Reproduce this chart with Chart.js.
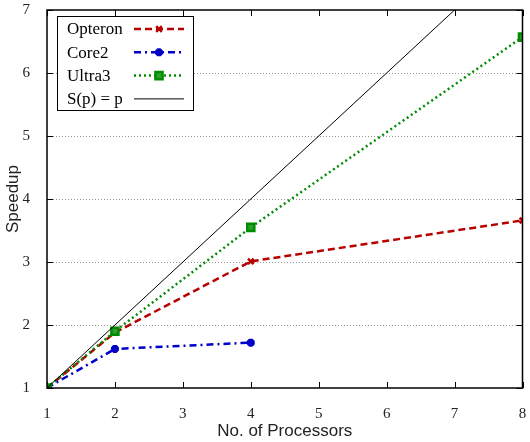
<!DOCTYPE html>
<html><head><meta charset="utf-8">
<script src="https://cdn.jsdelivr.net/npm/chart.js@4/dist/chart.umd.min.js"></script>
<style>html,body{margin:0;padding:0;background:#fff}#wrap{width:530px;height:442px}</style>
</head><body><div id="wrap"><canvas id="c" width="530" height="442"></canvas></div>
<script>
const processors = [1, 2, 4, 8];
const opteron = [1.0, 1.88, 3.01, 3.66];
const core2 = [1.0, 1.62, 1.72];
const ultra3 = [1.0, 1.9, 3.55, 6.57];
const ideal = [1, 8];
const idealX = [1, 8];
const xTicks = [1, 2, 3, 4, 5, 6, 7, 8];
const yTicks = [1, 2, 3, 4, 5, 6, 7];

const pts = (xs, ys) => ys.map((y, i) => ({x: xs[i], y}));

const framePlugin = {
  id: 'frame',
  beforeDatasetsDraw(chart) {
    const {ctx, chartArea: a, scales: {x, y}} = chart;
    ctx.save();
    ctx.strokeStyle = '#999';
    ctx.lineWidth = 1;
    ctx.setLineDash([1, 2]);
    yTicks.forEach(v => {
      if (v > 1 && v < 7) {
        const py = Math.round(y.getPixelForValue(v)) + 0.5;
        ctx.beginPath(); ctx.moveTo(a.left, py); ctx.lineTo(a.right, py); ctx.stroke();
      }
    });
    ctx.setLineDash([]);
    ctx.strokeStyle = '#000';
    xTicks.forEach(v => {
      const px = Math.round(x.getPixelForValue(v)) + 0.5;
      ctx.beginPath();
      ctx.moveTo(px, a.bottom); ctx.lineTo(px, a.bottom - 6);
      ctx.moveTo(px, a.top); ctx.lineTo(px, a.top + 6);
      ctx.stroke();
    });
    yTicks.forEach(v => {
      const py = Math.round(y.getPixelForValue(v)) + 0.5;
      ctx.beginPath();
      ctx.moveTo(a.left, py); ctx.lineTo(a.left + 6, py);
      ctx.moveTo(a.right, py); ctx.lineTo(a.right - 6, py);
      ctx.stroke();
    });
    ctx.restore();
  },
  afterDatasetsDraw(chart) {
    const {ctx, chartArea: a} = chart;
    ctx.save();
    ctx.strokeStyle = '#000';
    ctx.lineWidth = 1.5;
    ctx.strokeRect(a.left, a.top, a.right - a.left, a.bottom - a.top);
    const bx = 57, by = 16, bw = 136, bh = 94;
    ctx.fillStyle = '#fff';
    ctx.fillRect(bx, by, bw, bh);
    ctx.lineWidth = 1;
    ctx.strokeRect(bx + 0.5, by + 0.5, bw, bh);
    ctx.font = '17px "Liberation Serif", "Times New Roman", serif';
    ctx.textBaseline = 'middle';
    chart.data.datasets.forEach((ds, i) => {
      const yy = by + 13 + i * 23.3;
      ctx.fillStyle = '#000';
      ctx.fillText(ds.label, bx + 10, yy + 1);
      ctx.strokeStyle = ds.borderColor;
      ctx.lineWidth = ds.borderWidth;
      ctx.setLineDash(ds.borderDash || []);
      ctx.beginPath(); ctx.moveTo(bx + 77, yy); ctx.lineTo(bx + 127, yy); ctx.stroke();
      ctx.setLineDash([]);
      if (ds.pointRadius > 0) {
        ctx.fillStyle = ds.pointBackgroundColor;
        ctx.strokeStyle = ds.borderColor;
        ctx.lineWidth = ds.pointBorderWidth;
        Chart.helpers.drawPoint(ctx, {pointStyle: ds.pointStyle, radius: ds.pointRadius, rotation: 0, borderWidth: ds.pointBorderWidth}, bx + 102, yy);
      }
    });
    ctx.restore();
  }
};

new Chart(document.getElementById('c'), {
  type: 'line',
  data: {
    datasets: [
      {label: 'Opteron', data: pts(processors, opteron), borderColor: '#b80000', backgroundColor: '#b80000',
       pointBackgroundColor: '#b80000', borderWidth: 2.5, borderDash: [7, 4], pointStyle: 'crossRot', pointRadius: 4, pointBorderWidth: 2.5, order: 3},
      {label: 'Core2', data: pts(processors, core2), borderColor: '#0000c8', backgroundColor: '#0000c8',
       pointBackgroundColor: '#0000c8', borderWidth: 2.5, borderDash: [7, 4, 2, 4], pointStyle: 'star', pointRadius: 4, pointBorderWidth: 3, order: 2},
      {label: 'Ultra3', data: pts(processors, ultra3), borderColor: '#008c00', backgroundColor: '#008c00',
       pointBackgroundColor: '#2f9f2f', borderWidth: 2.5, borderDash: [2, 3], pointStyle: 'rect', pointRadius: 5, pointBorderWidth: 2.5, order: 1},
      {label: 'S(p) = p', data: pts(idealX, ideal), borderColor: '#000', backgroundColor: '#000',
       pointBackgroundColor: '#000', borderWidth: 1, borderDash: [], pointRadius: 0, pointBorderWidth: 0, order: 0}
    ]
  },
  options: {
    responsive: false,
    animation: false,
    layout: {padding: {top: 10, right: 6, left: 0, bottom: 0}},
    plugins: {legend: {display: false}, tooltip: {enabled: false}},
    elements: {line: {tension: 0}},
    scales: {
      x: {
        type: 'linear', min: 1, max: 8,
        grid: {display: false}, border: {display: false},
        afterBuildTicks: s => { s.ticks = xTicks.map(v => ({value: v})); },
        afterFit: s => { s.height = 54; s.paddingLeft = 0; s.paddingRight = 0; },
        ticks: {padding: 9, color: '#222', font: {family: '"Liberation Serif", "Times New Roman", serif', size: 15}, maxRotation: 0},
        title: {display: true, text: 'No. of Processors', color: '#222', padding: {top: 2, bottom: 0},
                font: {family: '"Liberation Sans", Arial, sans-serif', size: 17}}
      },
      y: {
        type: 'linear', min: 1, max: 7,
        grid: {display: false}, border: {display: false},
        afterBuildTicks: s => { s.ticks = yTicks.map(v => ({value: v})); },
        afterFit: s => { s.width = 47; s.paddingTop = 0; s.paddingBottom = 0; },
        ticks: {padding: 9, color: '#222', font: {family: '"Liberation Serif", "Times New Roman", serif', size: 15}},
        title: {display: true, text: 'Speedup', color: '#222', padding: {top: 3, bottom: 2},
                font: {family: '"Liberation Sans", Arial, sans-serif', size: 17}}
      }
    }
  },
  plugins: [framePlugin]
});
</script></body></html>
